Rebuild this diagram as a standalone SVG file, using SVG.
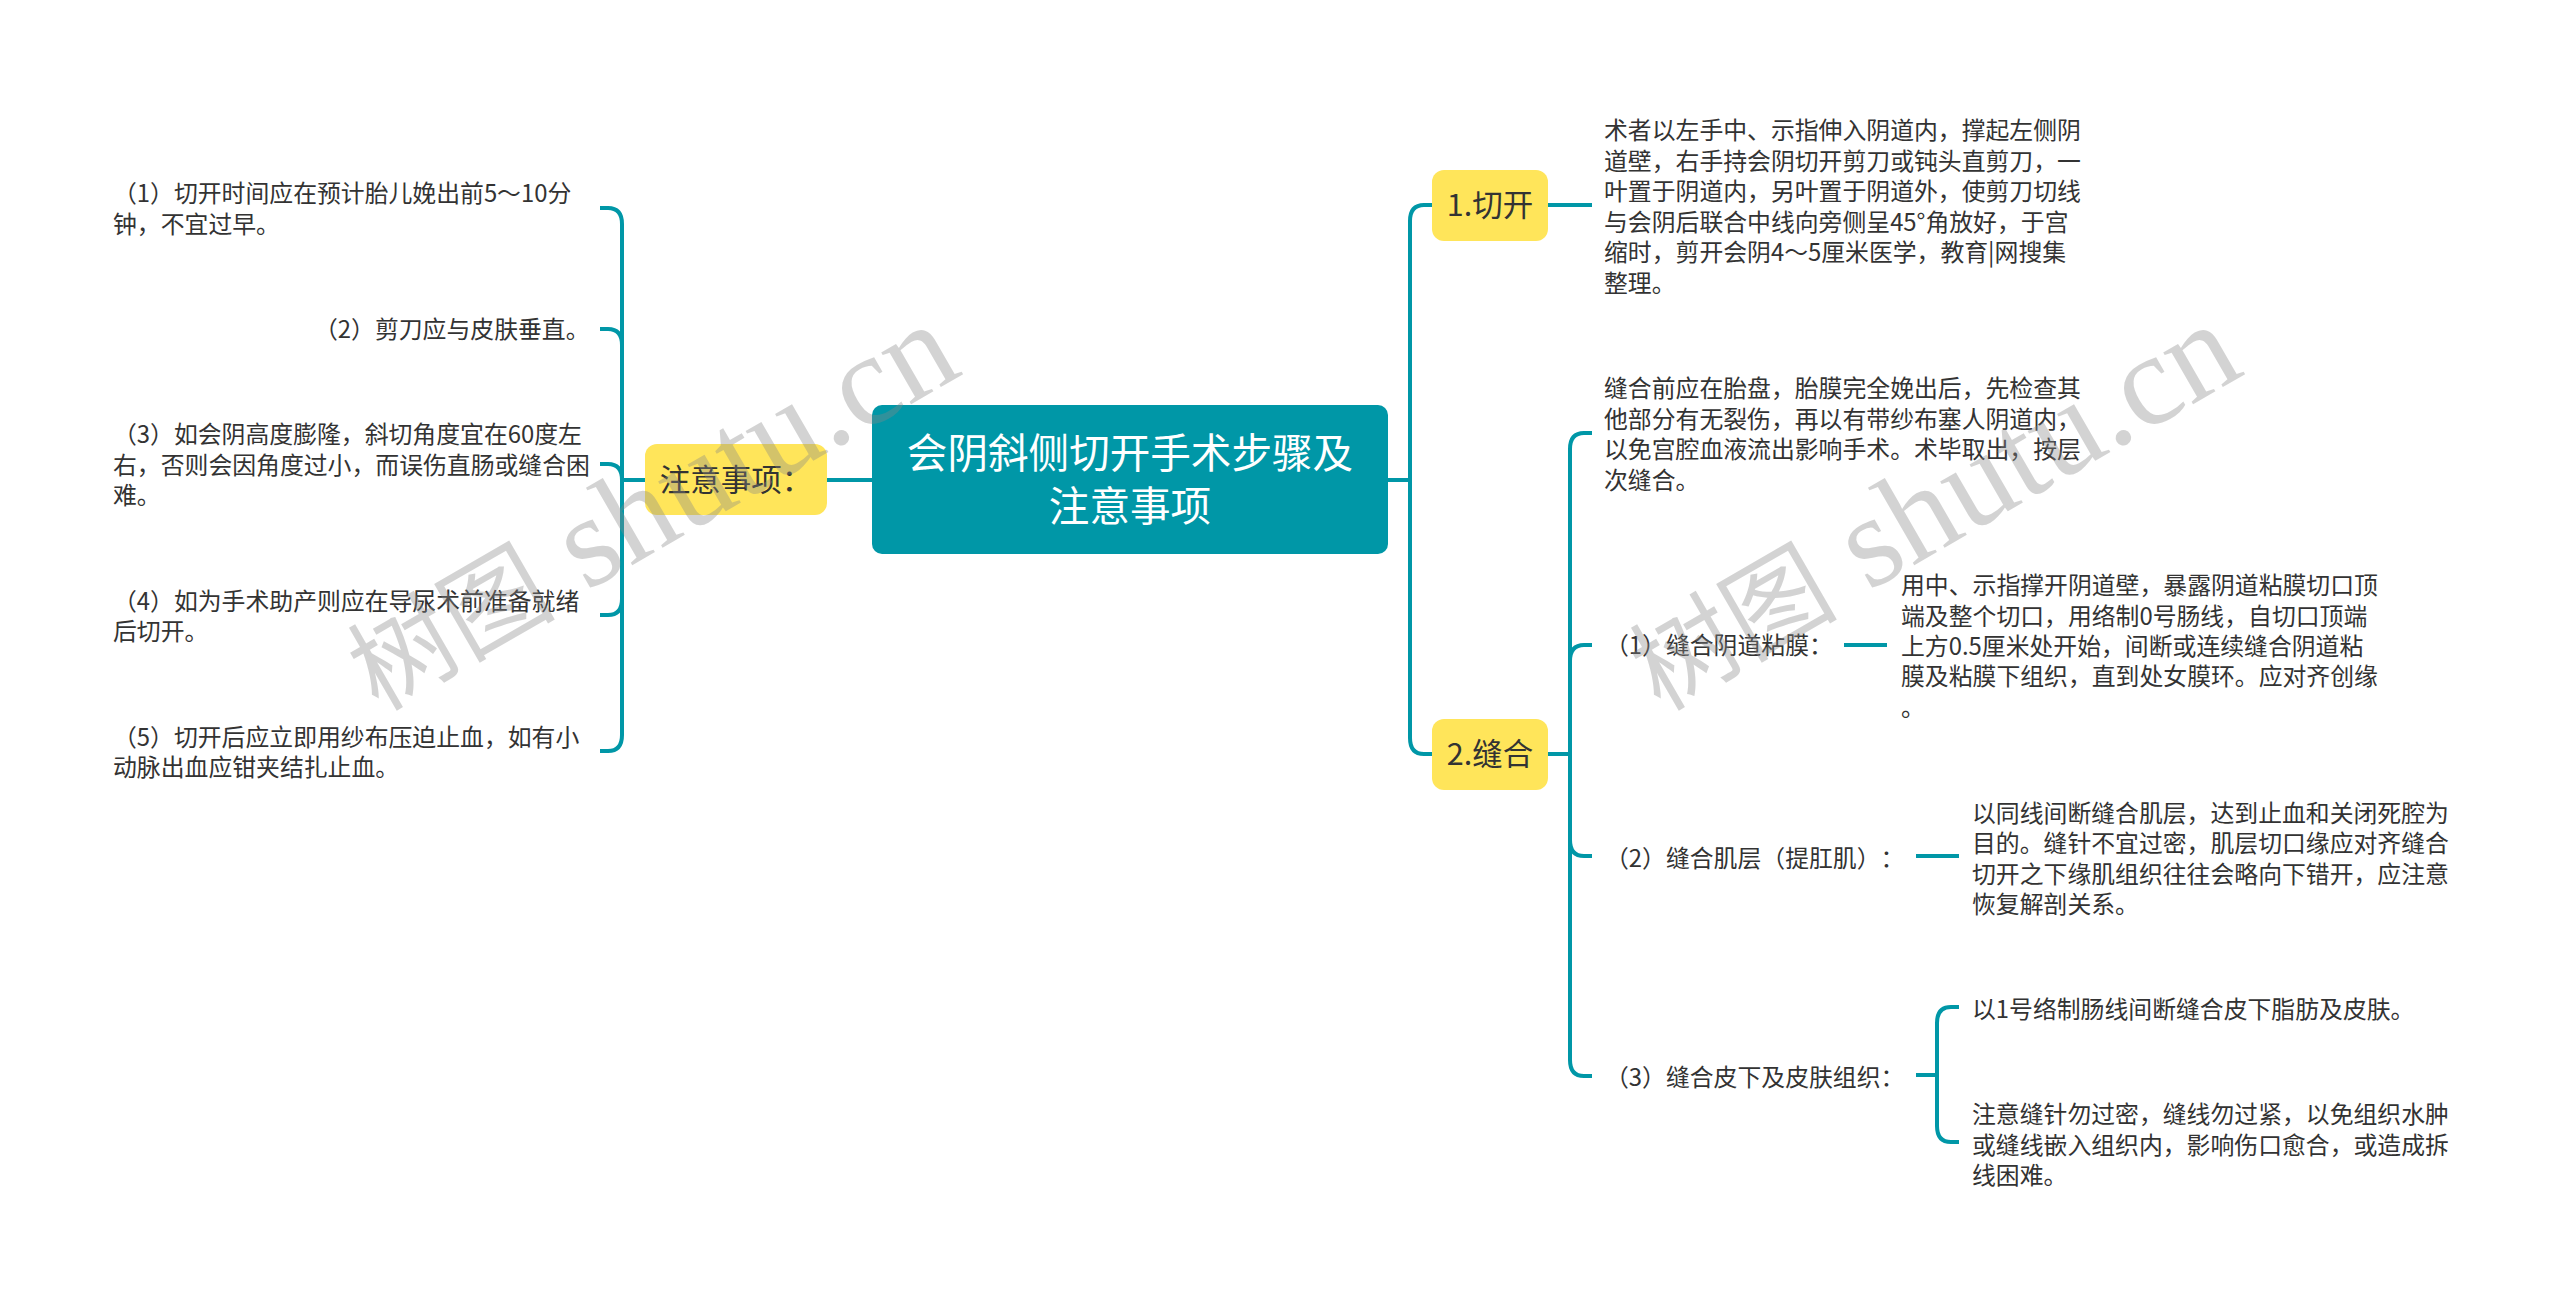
<svg xmlns="http://www.w3.org/2000/svg" width="2560" height="1303" viewBox="0 0 2560 1303">
<style>
text{font-family:"Noto Sans CJK SC","Liberation Sans",sans-serif;fill:#333;text-spacing-trim:space-all}
.t{font-size:23.85px}
.y{font-size:30.5px;text-anchor:middle}
.c{font-size:40.6px;text-anchor:middle;fill:#fff}
.yb{fill:#ffe55a}
.cb{fill:#0097a7}
.l{fill:none;stroke:#0097a7;stroke-width:4}
.w{font-family:"Liberation Serif","Noto Sans CJK SC",serif;font-size:130px;fill:#888;opacity:.36}
.wc{font-size:104px}
</style>
<rect width="2560" height="1303" fill="#fff"/>
<g id="connectors">
<path class="l" d="M872 480H827M645 480H622"/>
<path class="l" d="M600 208H608Q622 208 622 224V735Q622 751 608 751H600"/>
<path class="l" d="M600 329H608Q622 329 622 345"/>
<path class="l" d="M600 464H608Q622 464 622 480"/>
<path class="l" d="M600 615H608Q622 615 622 599"/>
<path class="l" d="M1388 480H1410"/>
<path class="l" d="M1433 205H1424Q1410 205 1410 221V738Q1410 754 1424 754H1433"/>
<path class="l" d="M1548 205H1592"/>
<path class="l" d="M1548 754H1570"/>
<path class="l" d="M1592 433H1584Q1570 433 1570 449V1060Q1570 1076 1584 1076H1592"/>
<path class="l" d="M1592 645H1584Q1570 645 1570 661"/>
<path class="l" d="M1592 856H1584Q1570 856 1570 840"/>
<path class="l" d="M1844 645H1887"/>
<path class="l" d="M1916 856H1959"/>
<path class="l" d="M1916 1075H1937"/>
<path class="l" d="M1959 1007H1951Q1937 1007 1937 1023V1126Q1937 1142 1951 1142H1959"/>
</g>
<g id="root">
<rect class="cb" x="872" y="405" width="516" height="149" rx="10"/>
<text class="c" x="1130" y="468">会阴斜侧切开手术步骤及</text>
<text class="c" x="1130" y="521">注意事项</text>
</g>
<g id="n-notes">
<rect class="yb" x="645" y="444" width="182" height="71" rx="12"/>
<text class="y" x="736" y="491">注意事项：</text>
</g>
<g id="n-cut">
<rect class="yb" x="1432" y="170" width="116" height="71" rx="12"/>
<text class="y" x="1490" y="216">1.切开</text>
</g>
<g id="n-suture">
<rect class="yb" x="1432" y="719" width="116" height="71" rx="12"/>
<text class="y" x="1490" y="765">2.缝合</text>
</g>
<g id="n-note1"><text class="t"><tspan x="113" y="202">（1）切开时间应在预计胎儿娩出前5～10分</tspan><tspan x="113" y="233">钟，不宜过早。</tspan></text></g>
<g id="n-note2"><text class="t" x="314" y="338">（2）剪刀应与皮肤垂直。</text></g>
<g id="n-note3"><text class="t"><tspan x="113" y="443">（3）如会阴高度膨隆，斜切角度宜在60度左</tspan><tspan x="113" y="474">右，否则会因角度过小，而误伤直肠或缝合困</tspan><tspan x="113" y="504">难。</tspan></text></g>
<g id="n-note4"><text class="t"><tspan x="113" y="610">（4）如为手术助产则应在导尿术前准备就绪</tspan><tspan x="113" y="640">后切开。</tspan></text></g>
<g id="n-note5"><text class="t"><tspan x="113" y="746">（5）切开后应立即用纱布压迫止血，如有小</tspan><tspan x="113" y="776">动脉出血应钳夹结扎止血。</tspan></text></g>
<g id="n-cut-text"><text class="t"><tspan x="1604" y="139">术者以左手中、示指伸入阴道内，撑起左侧阴</tspan><tspan x="1604" y="170">道壁，右手持会阴切开剪刀或钝头直剪刀，一</tspan><tspan x="1604" y="200">叶置于阴道内，另叶置于阴道外，使剪刀切线</tspan><tspan x="1604" y="231">与会阴后联合中线向旁侧呈45°角放好，于宫</tspan><tspan x="1604" y="261">缩时，剪开会阴4～5厘米医学，教育|网搜集</tspan><tspan x="1604" y="292">整理。</tspan></text></g>
<g id="n-suture-text"><text class="t"><tspan x="1604" y="397">缝合前应在胎盘，胎膜完全娩出后，先检查其</tspan><tspan x="1604" y="428">他部分有无裂伤，再以有带纱布塞人阴道内，</tspan><tspan x="1604" y="458">以免宫腔血液流出影响手术。术毕取出，按层</tspan><tspan x="1604" y="489">次缝合。</tspan></text></g>
<g id="n-s1"><text class="t" x="1605" y="654">（1）缝合阴道粘膜：</text></g>
<g id="n-s1-text"><text class="t"><tspan x="1901" y="594">用中、示指撑开阴道壁，暴露阴道粘膜切口顶</tspan><tspan x="1901" y="625">端及整个切口，用络制0号肠线，自切口顶端</tspan><tspan x="1901" y="655">上方0.5厘米处开始，间断或连续缝合阴道粘</tspan><tspan x="1901" y="685">膜及粘膜下组织，直到处女膜环。应对齐创缘</tspan><tspan x="1901" y="716">。</tspan></text></g>
<g id="n-s2"><text class="t" x="1605" y="867">（2）缝合肌层（提肛肌）：</text></g>
<g id="n-s2-text"><text class="t"><tspan x="1972" y="822">以同线间断缝合肌层，达到止血和关闭死腔为</tspan><tspan x="1972" y="852">目的。缝针不宜过密，肌层切口缘应对齐缝合</tspan><tspan x="1972" y="883">切开之下缘肌组织往往会略向下错开，应注意</tspan><tspan x="1972" y="913">恢复解剖关系。</tspan></text></g>
<g id="n-s3"><text class="t" x="1605" y="1086">（3）缝合皮下及皮肤组织：</text></g>
<g id="n-s3-a"><text class="t" x="1972" y="1018">以1号络制肠线间断缝合皮下脂肪及皮肤。</text></g>
<g id="n-s3-b"><text class="t"><tspan x="1972" y="1123">注意缝针勿过密，缝线勿过紧，以免组织水肿</tspan><tspan x="1972" y="1154">或缝线嵌入组织内，影响伤口愈合，或造成拆</tspan><tspan x="1972" y="1184">线困难。</tspan></text></g>
<g id="watermarks">
<text class="w" transform="translate(378 712) rotate(-30)"><tspan class="wc">树图</tspan> shutu.cn</text>
<text class="w" transform="translate(1660 712) rotate(-30)"><tspan class="wc">树图</tspan> shutu.cn</text>
</g>
</svg>
